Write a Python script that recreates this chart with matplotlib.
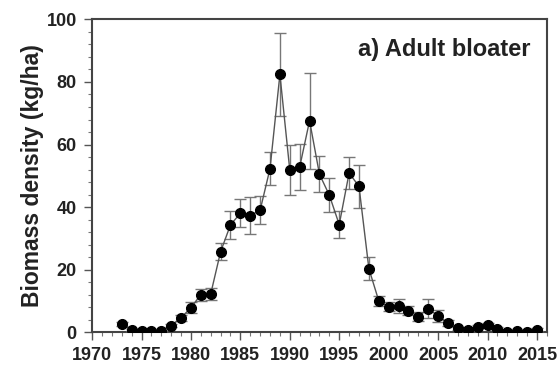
import numpy as np
import matplotlib.pyplot as plt
from matplotlib.ticker import MultipleLocator

plt.rcParams['font.family'] = ['Liberation Sans', 'DejaVu Sans']
plt.rcParams['font.weight'] = 'bold'

# Adult bloater biomass density (kg/ha), annual survey means and standard errors
anos = np.arange(1973, 2016)
biomasa = [2.5, 0.6, 0.5, 0.5, 0.5, 2.0, 4.6, 7.8, 12.0, 12.2,
           25.7, 34.3, 38.0, 37.3, 39.0, 52.3, 82.4, 51.8, 52.8, 67.6,
           50.5, 43.8, 34.4, 50.9, 46.6, 20.3, 10.0, 8.1, 8.3, 6.9,
           5.0, 7.5, 5.2, 2.9, 1.2, 0.6, 1.8, 2.2, 1.1, 0.2,
           0.4, 0.1, 0.8]
error = [0.6, 0.3, 0.2, 0.2, 0.2, 0.5, 1.0, 1.7, 1.9, 2.0,
         2.7, 4.6, 4.5, 6.0, 4.5, 5.4, 13.3, 8.0, 7.4, 15.3,
         5.7, 5.4, 4.2, 5.0, 7.0, 3.7, 1.5, 1.5, 2.2, 1.5,
         1.3, 3.0, 1.8, 1.0, 0.5, 0.3, 0.6, 0.7, 0.4, 0.2,
         0.2, 0.1, 0.4]

fig = plt.figure(figsize=(5.58, 3.67), dpi=100)
ax = fig.add_axes([0.165, 0.095, 0.815, 0.852])

ax.errorbar(anos, biomasa, yerr=error, fmt='-o', color='#555555', lw=1.0,
            ecolor='#777777', elinewidth=1.0, capsize=4, capthick=1.0,
            mfc='black', mec='black', ms=7, zorder=3)

ax.set_xlim(1970, 2016)
ax.set_ylim(0, 100)
ax.xaxis.set_major_locator(MultipleLocator(5))
ax.xaxis.set_minor_locator(MultipleLocator(1))
ax.yaxis.set_major_locator(MultipleLocator(20))
ax.yaxis.set_minor_locator(MultipleLocator(4))
ax.tick_params(which='major', direction='out', length=6, width=1.0,
               color='#555555', labelsize=13, labelcolor='#222222', pad=5)
ax.tick_params(which='minor', direction='out', length=3, width=0.8,
               color='#777777')
for s in ax.spines.values():
    s.set_color('#444444')
    s.set_linewidth(1.5)

ax.set_ylabel('Biomass density (kg/ha)', fontsize=16.5, fontweight='bold',
              color='#222222', labelpad=2)
ax.text(0.965, 0.905, 'a) Adult bloater', transform=ax.transAxes,
        ha='right', va='center', fontsize=17, fontweight='bold',
        color='#222222')

fig.savefig('out.png', dpi=100)
